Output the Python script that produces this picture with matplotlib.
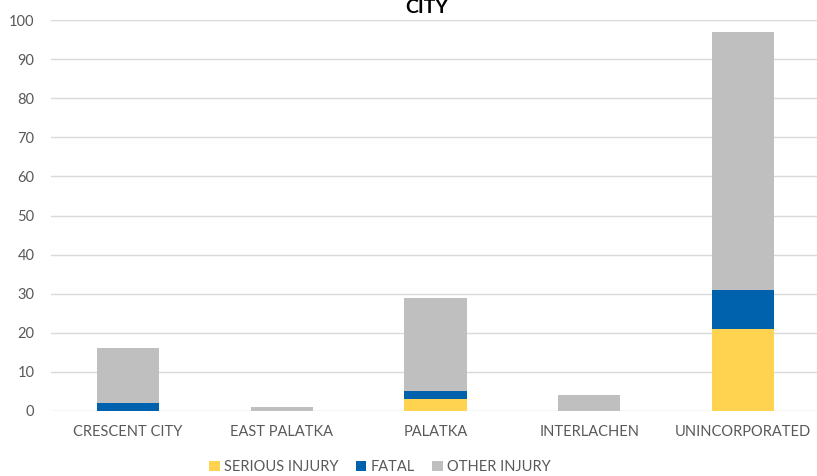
import matplotlib.pyplot as plt
import numpy as np

plt.rcParams['font.family'] = ['Lato', 'DejaVu Sans']

categories = ['CRESCENT CITY', 'EAST PALATKA', 'PALATKA', 'INTERLACHEN', 'UNINCORPORATED']
serious = [0, 0, 3, 0, 21]
fatal = [2, 0, 2, 0, 10]
other = [14, 1, 24, 4, 66]

YELLOW, BLUE, GRAY = '#FFD34F', '#0062AC', '#BFBFBF'
TXT = '#595959'

fig = plt.figure(figsize=(8.17, 4.76), dpi=100)
# plot area runs a little past the right edge, as in the source image
ax = fig.add_axes([51 / 817, 1 - 411 / 476, 769 / 817, 391 / 476])

x = np.arange(len(categories))
s = np.array(serious)
f = np.array(fatal)
o = np.array(other)
w = 0.405
ax.bar(x, s, w, color=YELLOW, label='SERIOUS INJURY', zorder=3)
ax.bar(x, f, w, bottom=s, color=BLUE, label='FATAL', zorder=3)
ax.bar(x, o, w, bottom=s + f, color=GRAY, label='OTHER INJURY', zorder=3)

ax.set_xlim(-0.5, len(categories) - 0.5)
ax.set_ylim(0, 100)
ax.set_yticks(range(0, 101, 10))
ax.set_xticks(x)
ax.set_xticklabels(categories)
ax.grid(axis='y', color='#D9D9D9', linewidth=1, zorder=0)
for sp in ax.spines.values():
    sp.set_visible(False)
ax.tick_params(length=0, labelsize=10.5, labelcolor=TXT)
ax.tick_params(axis='x', pad=10)
ax.tick_params(axis='y', pad=12)

fig.text(427 / 817, 1 - 13 / 476, 'CITY', ha='center', va='baseline',
         fontsize=14, fontweight='bold', color='black')

ax.legend(loc='center', bbox_to_anchor=(380 / 817, 1 - 467 / 476),
          bbox_transform=fig.transFigure, ncol=3, frameon=False,
          fontsize=10.5, labelcolor=TXT, handlelength=0.7, handleheight=0.7,
          handletextpad=0.3, columnspacing=1.2)

fig.savefig('out.png', dpi=100)
